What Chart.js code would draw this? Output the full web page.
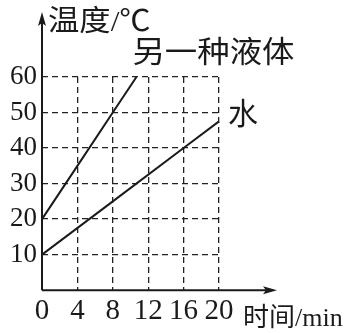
<!DOCTYPE html>
<html>
<head>
<meta charset="utf-8">
<script src="https://cdn.jsdelivr.net/npm/chart.js@4"></script>
<style>
  html, body { margin: 0; padding: 0; background: #fff; }
  #wrap { width: 362px; height: 333px; }
</style>
</head>
<body>
<div id="wrap"><canvas id="grafico"></canvas></div>
<script>
// dados
const xTicks = [0, 4, 8, 12, 16, 20];
const yTicks = [10, 20, 30, 40, 50, 60];
const tempoLiquido = [0, 4, 8, 10.67];
const tempLiquido = [20, 35, 50, 60];
const tempoAgua = [0, 8, 16, 20];
const tempAgua = [10, 25, 40, 47.5];
const nomeLiquido = '另一种液体';
const nomeAgua = '水';
const tituloY = '温度/℃';
const tituloX = '时间/min';

const tinta = '#1a1a1a';
const fonteTexto = '"Liberation Serif", "Noto Sans CJK SC", serif';

function pares(xs, ys) {
    return xs.map((x, i) => ({ x: x, y: ys[i] }));
}

function escrever(ctx, texto, x, y, tamanho, esticar) {
    ctx.save();
    ctx.translate(x, y);
    ctx.scale(esticar, 1);
    ctx.font = tamanho + 'px ' + fonteTexto;
    ctx.fillStyle = tinta;
    ctx.textBaseline = 'alphabetic';
    ctx.textAlign = 'left';
    ctx.fillText(texto, 0, 0);
    ctx.restore();
}

// setas dos eixos, eixos sólidos e rótulos
const eixosPlugin = {
    id: 'eixos',
    afterDraw(chart) {
        const ctx = chart.ctx;
        const a = chart.chartArea;
        const sx = chart.scales.x;
        const sy = chart.scales.y;
        const fimX = 277, topoY = 12;

        ctx.save();
        ctx.strokeStyle = tinta;
        ctx.fillStyle = tinta;
        ctx.lineWidth = 2;
        ctx.setLineDash([]);
        ctx.beginPath();
        ctx.moveTo(a.left, a.bottom);
        ctx.lineTo(fimX - 8, a.bottom);
        ctx.moveTo(a.left, a.bottom);
        ctx.lineTo(a.left, topoY + 8);
        ctx.stroke();

        ctx.beginPath();
        ctx.moveTo(fimX, a.bottom);
        ctx.lineTo(fimX - 14, a.bottom - 4);
        ctx.lineTo(fimX - 11, a.bottom);
        ctx.lineTo(fimX - 14, a.bottom + 4);
        ctx.closePath();
        ctx.fill();

        ctx.beginPath();
        ctx.moveTo(a.left, topoY);
        ctx.lineTo(a.left - 4, topoY + 14);
        ctx.lineTo(a.left, topoY + 11);
        ctx.lineTo(a.left + 4, topoY + 14);
        ctx.closePath();
        ctx.fill();
        ctx.restore();

        escrever(ctx, tituloY, a.left + 6, 31, 29, 1.08);
        escrever(ctx, tituloX, fimX - 34, 326, 26, 1.0);

        const nl = tempoLiquido.length - 1;
        escrever(ctx, nomeLiquido, sx.getPixelForValue(tempoLiquido[nl]) - 4,
            sy.getPixelForValue(tempLiquido[nl]) - 15, 30, 1.08);
        const na = tempoAgua.length - 1;
        escrever(ctx, nomeAgua, sx.getPixelForValue(tempoAgua[na]) + 9,
            sy.getPixelForValue(tempAgua[na]) + 3, 30, 1.0);
    }
};

new Chart(document.getElementById('grafico'), {
    type: 'line',
    data: {
        datasets: [{
            label: nomeLiquido,
            data: pares(tempoLiquido, tempLiquido),
            borderColor: tinta,
            borderWidth: 2,
            pointRadius: 0,
            tension: 0,
            clip: false
        }, {
            label: nomeAgua,
            data: pares(tempoAgua, tempAgua),
            borderColor: tinta,
            borderWidth: 2,
            pointRadius: 0,
            tension: 0,
            clip: false
        }]
    },
    options: {
        responsive: true,
        maintainAspectRatio: false,
        animation: false,
        events: [],
        layout: { padding: { left: 5, right: 143, top: 77, bottom: 0 } },
        plugins: { legend: { display: false }, tooltip: { enabled: false } },
        scales: {
            x: {
                type: 'linear',
                min: 0,
                max: 20,
                afterBuildTicks: (s) => { s.ticks = xTicks.map(v => ({ value: v })); },
                border: { display: false, dash: [6, 4] },
                grid: { color: '#222', lineWidth: 1.3, drawTicks: false },
                ticks: {
                    color: tinta,
                    padding: 4,
                    maxRotation: 0,
                    autoSkip: false,
                    font: { family: '"Liberation Serif", serif', size: 29 }
                }
            },
            y: {
                min: 0,
                max: 60,
                afterBuildTicks: (s) => { s.ticks = yTicks.map(v => ({ value: v })); },
                border: { display: false, dash: [6, 4] },
                grid: { color: '#222', lineWidth: 1.3, drawTicks: false },
                ticks: {
                    color: tinta,
                    padding: 5,
                    autoSkip: false,
                    font: { family: '"Liberation Serif", serif', size: 27 }
                }
            }
        }
    },
    plugins: [eixosPlugin]
});
</script>
</body>
</html>
